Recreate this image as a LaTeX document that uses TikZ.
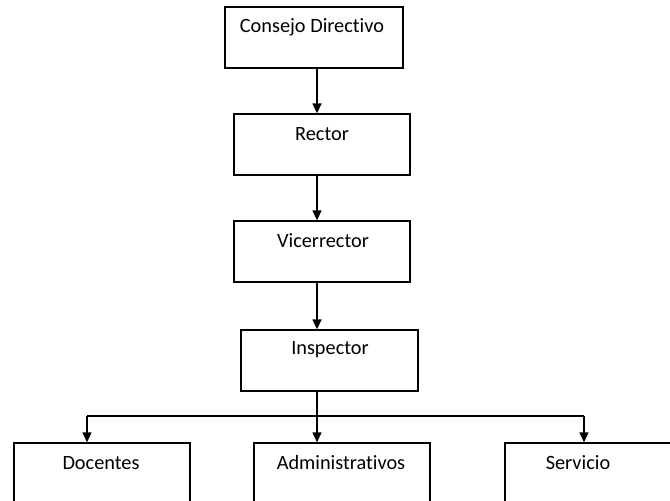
\documentclass[tikz,border=0pt]{standalone}
\usepackage{fontspec}
\setmainfont[Ligatures=NoCommon]{Carlito}
\usetikzlibrary{arrows.meta}
\begin{document}
\begin{tikzpicture}[x=1pt,y=-1pt,
  box/.style={draw=black,line width=1.3pt,minimum width=176pt,minimum height=61pt,inner sep=0pt},
  lbl/.style={font=\fontsize{20.3}{22}\selectfont,inner sep=0pt,anchor=center},
  arr/.style={line width=1.3pt,-{Triangle[width=9pt,length=10pt]}},
  ln/.style={line width=1.3pt}]
\useasboundingbox (0,0) rectangle (670,501);
\clip (0,0) rectangle (670,501);
\coordinate (axis) at (317,0);
\coordinate (dx) at (87,0);
\coordinate (sx) at (584,0);
\coordinate (hy) at (0,416);
\node[box,minimum width=178pt] (cd) at (314,37.5) {};
\node[box] (rec) at (322,144.5) {};
\node[box] (vic) at (322,251.5) {};
\node[box,minimum width=177pt] (ins) at (329.5,360.5) {};
\node[box] (doc) at (102,473.5) {};
\node[box] (adm) at (342,473.5) {};
\node[box] (ser) at (593,473.5) {};
\node[lbl] (tcd) at (312,27) {Consejo Directivo};
\node[lbl] (trec) at (322,134) {Rector};
\node[lbl] (tvic) at (323,241) {Vicerrector};
\node[lbl] (tins) at (330,350) {Inspector};
\node[lbl] (tdoc) at (101,463) {Docentes};
\node[lbl] (tadm) at (341,463) {Administrativos};
\node[lbl] (tser) at (578,463) {Servicio};
\draw[arr] (cd.south -| axis) -- (rec.north -| axis);
\draw[arr] (rec.south -| axis) -- (vic.north -| axis);
\draw[arr] (vic.south -| axis) -- (ins.north -| axis);
\draw[arr] (ins.south -| axis) -- (adm.north -| axis);
\draw[ln] (hy -| dx) -- (hy -| sx);
\draw[arr] (hy -| dx) -- (doc.north -| dx);
\draw[arr] (hy -| sx) -- (ser.north -| sx);
\end{tikzpicture}
\end{document}
